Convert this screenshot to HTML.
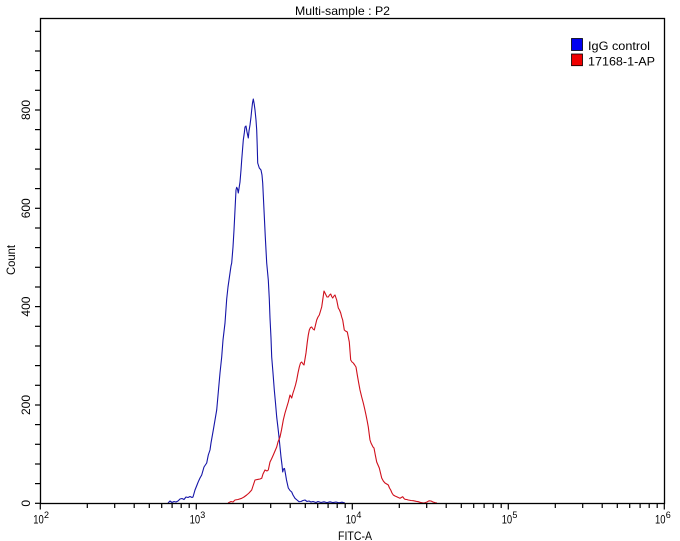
<!DOCTYPE html>
<html>
<head>
<meta charset="utf-8">
<style>
html,body{margin:0;padding:0;background:#fff;}
svg{display:block;}
text{font-family:"Liberation Sans",Arial,sans-serif;fill:#000;}
</style>
</head>
<body>
<svg width="680" height="541" viewBox="0 0 680 541" xmlns="http://www.w3.org/2000/svg">
<rect x="0" y="0" width="680" height="541" fill="#fff"/>
<!-- title -->
<text x="295" y="15" font-size="12" textLength="95" lengthAdjust="spacingAndGlyphs">Multi-sample : P2</text>

<!-- curves -->
<polyline fill="none" stroke="#1515a8" stroke-width="1.1" stroke-linejoin="round" points="168,503 170,501 172,502.5 174,501.5 176,502 178,501 180,499 182,498.5 184,499.5 186,497 188,497.5 190,496.5 192,497.5 193,497 195,490 197,485 198.3,481.7 200,478 201.7,475 204,467 206.7,463 208.3,455 210,450 211,443 213.3,430 215,420 216.7,410 218.3,392 220,373 221.7,357 223,340 225,323 226.7,299 228,287 230,273 231,266 231.7,263 233,247 234,230 235,210 236,190 236.7,187.3 237.5,189 238.3,193 240,182 241,170 241.7,160 242.5,150 243.3,140 244.3,133 245,127 246,126 247,132 248.3,138 249,131 250,125 251,117 251.7,110 252.5,103 253.3,99 254.2,104 255,110 256,120 256.7,130 257.2,145 257.7,163 259.3,168 261,170 262,175 262.7,183 264,210 265.3,237 266.7,263 268.3,280 269.3,299 270,318 271,338 271.7,357 273,373 274.3,390 275.5,403 276.7,417 278,428 279,437 280,447 281,457 282,465 282.7,472 283.5,469 284.5,468.5 285.5,474 286.5,480 288.3,488 290,490.5 291.7,492 293,495 295,498.3 297,500 299,501.7 301,501.5 303,500.5 305,500 307,501.5 309,501 311,502 313,501.5 316,502.5 318,501.5 321,502.5 324,501.8 327,502.6 330,501.8 333,502.6 336,502 339,502.8 342,502.2 345,503"/>
<polyline fill="none" stroke="#d0101c" stroke-width="1.1" stroke-linejoin="round" points="228,503 231,501.5 233,502 235,500 238,499.5 241.7,498.3 244,497 246.7,495 249,493 251.7,490 253,486 255,480 258.3,479.3 260,479 261.7,478.3 263,474 265,470 267,471 268.3,470 270,462 271.5,459 273.3,455 275,451 276.7,447 278,442 280,437 281.5,430 283.3,420 285,413 286.5,408 288.3,402 290,395 291.7,398 293,393 294,390 295.5,385 296.7,380 298,373 299.3,367 300.5,363 301.7,362 303,364 304,365 305,359 306,353 307.3,342 308.3,335 309.3,330 310.5,327.5 311.7,327 313,329 314.3,330 315.5,325 316.7,320 318,317 319.3,315 320.5,311 321.7,307 323,298 324,291 325,293 326,295 327,297 328.3,297 329.5,295 330.7,294 331.7,296.5 332.7,298 334,296 335,295 336,298 336.7,300 337.5,304 338.3,308 339.5,310 340.7,313 341.7,317 342.7,320 343.5,325 344.3,330 345.5,331 347.3,332 348.3,337 349.3,342 350,351 350.7,360 352,362 353.3,363 354.7,365 356,367 357.3,375 358.7,383 360,390 361.7,397 363.3,403 364.7,409 366,415 367.2,421 368.3,427 369.2,434 370,440 371,443 372,445 373,447 374,448 375.3,455 376.7,462 378,465 379.3,468 380.5,473 381.7,478 383.3,481 385,483 386.7,484 388.3,485 389.5,488 390.7,490 392,493 393.3,495 395,496 396.7,496.7 398.3,497.5 400,498.3 401.3,497.5 402.7,496.7 404,498.5 405,499.3 406.7,499.5 408.3,500 411,500.5 413.3,500.7 416,501.3 418.3,501.7 420,502.3 421.7,502.7 424,503 427,502 429,500.8 431,501 433,502 435,502.7 437,503"/>

<!-- plot frame -->
<rect x="40.5" y="18.5" width="624" height="485" fill="none" stroke="#000" stroke-width="1.3"/>

<!-- y ticks -->
<g stroke="#000" stroke-width="1.2">
<line x1="35" y1="503.3" x2="40" y2="503.3"/>
<line x1="35" y1="483.6" x2="40" y2="483.6"/>
<line x1="35" y1="464.0" x2="40" y2="464.0"/>
<line x1="35" y1="444.3" x2="40" y2="444.3"/>
<line x1="35" y1="424.6" x2="40" y2="424.6"/>
<line x1="35" y1="405.0" x2="40" y2="405.0"/>
<line x1="35" y1="385.3" x2="40" y2="385.3"/>
<line x1="35" y1="365.6" x2="40" y2="365.6"/>
<line x1="35" y1="346.0" x2="40" y2="346.0"/>
<line x1="35" y1="326.3" x2="40" y2="326.3"/>
<line x1="35" y1="306.6" x2="40" y2="306.6"/>
<line x1="35" y1="287.0" x2="40" y2="287.0"/>
<line x1="35" y1="267.3" x2="40" y2="267.3"/>
<line x1="35" y1="247.6" x2="40" y2="247.6"/>
<line x1="35" y1="228.0" x2="40" y2="228.0"/>
<line x1="35" y1="208.3" x2="40" y2="208.3"/>
<line x1="35" y1="188.6" x2="40" y2="188.6"/>
<line x1="35" y1="169.0" x2="40" y2="169.0"/>
<line x1="35" y1="149.3" x2="40" y2="149.3"/>
<line x1="35" y1="129.6" x2="40" y2="129.6"/>
<line x1="35" y1="110.0" x2="40" y2="110.0"/>
<line x1="35" y1="90.3" x2="40" y2="90.3"/>
<line x1="35" y1="70.6" x2="40" y2="70.6"/>
<line x1="35" y1="51.0" x2="40" y2="51.0"/>
<line x1="35" y1="31.3" x2="40" y2="31.3"/>
</g>

<!-- y labels -->
<g font-size="12" text-anchor="middle">
<text transform="translate(30,503.3) rotate(-90)">0</text>
<text transform="translate(30,405) rotate(-90)" textLength="20" lengthAdjust="spacingAndGlyphs">200</text>
<text transform="translate(30,306.6) rotate(-90)" textLength="20" lengthAdjust="spacingAndGlyphs">400</text>
<text transform="translate(30,208.3) rotate(-90)" textLength="20" lengthAdjust="spacingAndGlyphs">600</text>
<text transform="translate(30,110) rotate(-90)" textLength="20" lengthAdjust="spacingAndGlyphs">800</text>
<text transform="translate(15,260) rotate(-90)" textLength="30" lengthAdjust="spacingAndGlyphs">Count</text>
</g>

<!-- x ticks -->
<g stroke="#000" stroke-width="1.2">
<line x1="40.3" y1="503" x2="40.3" y2="509.5"/>
<line x1="87.3" y1="503" x2="87.3" y2="508"/>
<line x1="114.7" y1="503" x2="114.7" y2="508"/>
<line x1="134.2" y1="503" x2="134.2" y2="508"/>
<line x1="149.3" y1="503" x2="149.3" y2="508"/>
<line x1="161.7" y1="503" x2="161.7" y2="508"/>
<line x1="172.1" y1="503" x2="172.1" y2="508"/>
<line x1="181.2" y1="503" x2="181.2" y2="508"/>
<line x1="189.2" y1="503" x2="189.2" y2="508"/>
<line x1="196.3" y1="503" x2="196.3" y2="509.5"/>
<line x1="243.3" y1="503" x2="243.3" y2="508"/>
<line x1="270.7" y1="503" x2="270.7" y2="508"/>
<line x1="290.2" y1="503" x2="290.2" y2="508"/>
<line x1="305.3" y1="503" x2="305.3" y2="508"/>
<line x1="317.7" y1="503" x2="317.7" y2="508"/>
<line x1="328.1" y1="503" x2="328.1" y2="508"/>
<line x1="337.2" y1="503" x2="337.2" y2="508"/>
<line x1="345.2" y1="503" x2="345.2" y2="508"/>
<line x1="352.3" y1="503" x2="352.3" y2="509.5"/>
<line x1="399.3" y1="503" x2="399.3" y2="508"/>
<line x1="426.7" y1="503" x2="426.7" y2="508"/>
<line x1="446.2" y1="503" x2="446.2" y2="508"/>
<line x1="461.3" y1="503" x2="461.3" y2="508"/>
<line x1="473.7" y1="503" x2="473.7" y2="508"/>
<line x1="484.1" y1="503" x2="484.1" y2="508"/>
<line x1="493.2" y1="503" x2="493.2" y2="508"/>
<line x1="501.2" y1="503" x2="501.2" y2="508"/>
<line x1="508.3" y1="503" x2="508.3" y2="509.5"/>
<line x1="555.3" y1="503" x2="555.3" y2="508"/>
<line x1="582.7" y1="503" x2="582.7" y2="508"/>
<line x1="602.2" y1="503" x2="602.2" y2="508"/>
<line x1="617.3" y1="503" x2="617.3" y2="508"/>
<line x1="629.7" y1="503" x2="629.7" y2="508"/>
<line x1="640.1" y1="503" x2="640.1" y2="508"/>
<line x1="649.2" y1="503" x2="649.2" y2="508"/>
<line x1="657.2" y1="503" x2="657.2" y2="508"/>
<line x1="664.3" y1="503" x2="664.3" y2="509.5"/>
</g>

<!-- x labels -->
<g font-size="12">
<text x="33.3" y="523.5" textLength="10.5" lengthAdjust="spacingAndGlyphs">10</text><text x="44" y="518" font-size="9">2</text>
<text x="189.6" y="523.5" textLength="10.5" lengthAdjust="spacingAndGlyphs">10</text><text x="200.3" y="518" font-size="9">3</text>
<text x="345.7" y="523.5" textLength="10.5" lengthAdjust="spacingAndGlyphs">10</text><text x="356.4" y="518" font-size="9">4</text>
<text x="501.7" y="523.5" textLength="10.5" lengthAdjust="spacingAndGlyphs">10</text><text x="512.4" y="518" font-size="9">5</text>
<text x="655" y="523.5" textLength="10.5" lengthAdjust="spacingAndGlyphs">10</text><text x="665.7" y="518" font-size="9">6</text>
<text x="338" y="540" textLength="34" lengthAdjust="spacingAndGlyphs">FITC-A</text>
</g>

<!-- legend -->
<rect x="571.5" y="38.5" width="11" height="12" fill="#0000f0" stroke="#000" stroke-width="0.8"/>
<rect x="571.5" y="54" width="11" height="11.7" fill="#f00000" stroke="#000" stroke-width="0.8"/>
<text x="588" y="50" font-size="12" textLength="62" lengthAdjust="spacingAndGlyphs">IgG control</text>
<text x="588" y="65.5" font-size="12" textLength="67" lengthAdjust="spacingAndGlyphs">17168-1-AP</text>
</svg>
</body>
</html>
